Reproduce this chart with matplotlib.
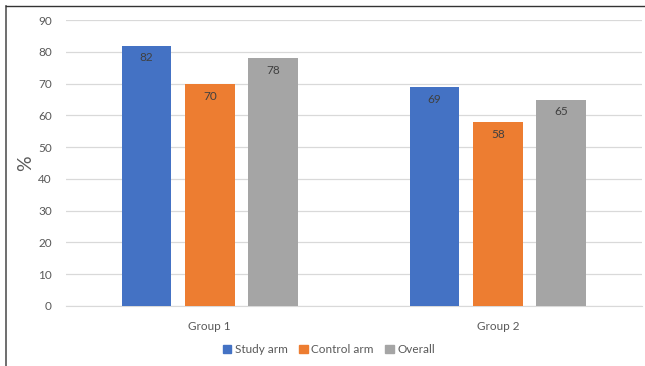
import numpy as np
import matplotlib.pyplot as plt
from matplotlib.patches import Patch
from matplotlib.lines import Line2D

# --- Data ---
GROUPS = ["Group 1", "Group 2"]
SERIES = ["Study arm", "Control arm", "Overall"]
STUDY = [82, 69]
CONTROL = [70, 58]
OVERALL = [78, 65]
COLORS = ["#4472C4", "#ED7D31", "#A5A5A5"]
TEXT = "#595959"

plt.rcParams['font.family'] = ['Lato', 'DejaVu Sans']

fig = plt.figure(figsize=(6.45, 3.66), dpi=100)
ax = fig.add_axes([0.102, 0.164, 0.893, 0.781])

x = np.arange(len(GROUPS))
width = 0.173
step = 0.22
for i, (vals, color) in enumerate(zip([STUDY, CONTROL, OVERALL], COLORS)):
    bars = ax.bar(x + (i - 1) * step, vals, width, color=color, zorder=3)
    for bar, v in zip(bars, vals):
        ax.annotate(f"{v}", (bar.get_x() + bar.get_width() / 2, v),
                    xytext=(0, -5), textcoords="offset points",
                    ha="center", va="top", fontsize=8.5, color="#404040", zorder=4)

ax.set_xlim(-0.5, 1.5)
ax.set_ylim(0, 90)
ax.set_yticks(range(0, 91, 10))
ax.grid(axis="y", color="#D9D9D9", linewidth=0.9, zorder=0)
ax.set_xticks(x)
ax.set_xticklabels(GROUPS)
ax.tick_params(axis="both", length=0, labelsize=8.5, colors=TEXT)
ax.tick_params(axis="x", pad=11)
ax.tick_params(axis="y", pad=10)
for side in ["top", "right", "left"]:
    ax.spines[side].set_visible(False)
ax.spines["bottom"].set_color("#D9D9D9")
ax.set_ylabel("%", fontsize=14, color=TEXT, labelpad=3)

handles = [Patch(color=c, label=s) for c, s in zip(COLORS, SERIES)]
fig.legend(handles=handles, loc="center", bbox_to_anchor=(0.51, 0.045), ncol=3,
           frameon=False, fontsize=8.5, handlelength=0.7, handleheight=0.7,
           handletextpad=0.3, columnspacing=1.0, labelcolor=TEXT)

# frame lines along the top and left edges
fig.add_artist(Line2D([0.009, 0.009], [0, 0.984], transform=fig.transFigure, color="#555555", linewidth=1.2))
fig.add_artist(Line2D([0.009, 1.0], [0.984, 0.984], transform=fig.transFigure, color="#333333", linewidth=1.0))

fig.savefig("out.png", dpi=100)
